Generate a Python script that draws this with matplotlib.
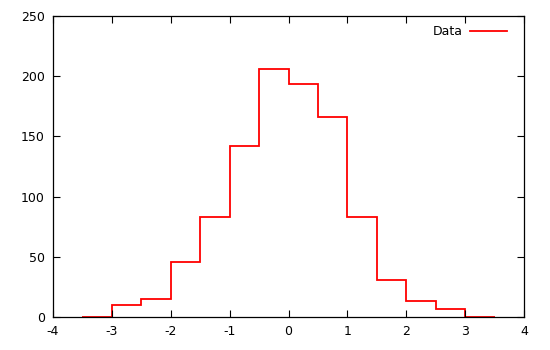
import matplotlib
matplotlib.use("Agg")
import matplotlib.pyplot as plt

bin_edges = [-3.5, -3.0, -2.5, -2.0, -1.5, -1.0, -0.5, 0.0, 0.5, 1.0, 1.5, 2.0, 2.5, 3.0, 3.5]
counts = [0, 10, 15, 46, 83, 142, 206, 194, 166, 83, 31, 13, 7, 0]
x_ticks = [-4, -3, -2, -1, 0, 1, 2, 3, 4]
y_ticks = [0, 50, 100, 150, 200, 250]

plt.rcParams['font.family'] = ['DejaVu Sans']
plt.rcParams['axes.unicode_minus'] = False
fig = plt.figure(figsize=(5.5, 3.5), dpi=100)
ax = fig.add_axes([0.0964, 0.0943, 0.9527 - 0.0964, 0.954 - 0.0943])

ax.stairs(counts, bin_edges, color='red', linewidth=1.3, label='Data')
ax.set_xlim(-4, 4)
ax.set_ylim(0, 250)
ax.set_xticks(x_ticks)
ax.set_yticks(y_ticks)
ax.tick_params(direction='in', top=True, right=True, length=5, width=0.8, labelsize=9, pad=6)
for s in ax.spines.values():
    s.set_linewidth(0.9)

ax.legend(loc='upper right', bbox_to_anchor=(0.986, 1.003), frameon=False, markerfirst=False,
          fontsize=9, handlelength=3.0, handletextpad=0.6, borderaxespad=0.4)

fig.savefig('out.png', dpi=100)
